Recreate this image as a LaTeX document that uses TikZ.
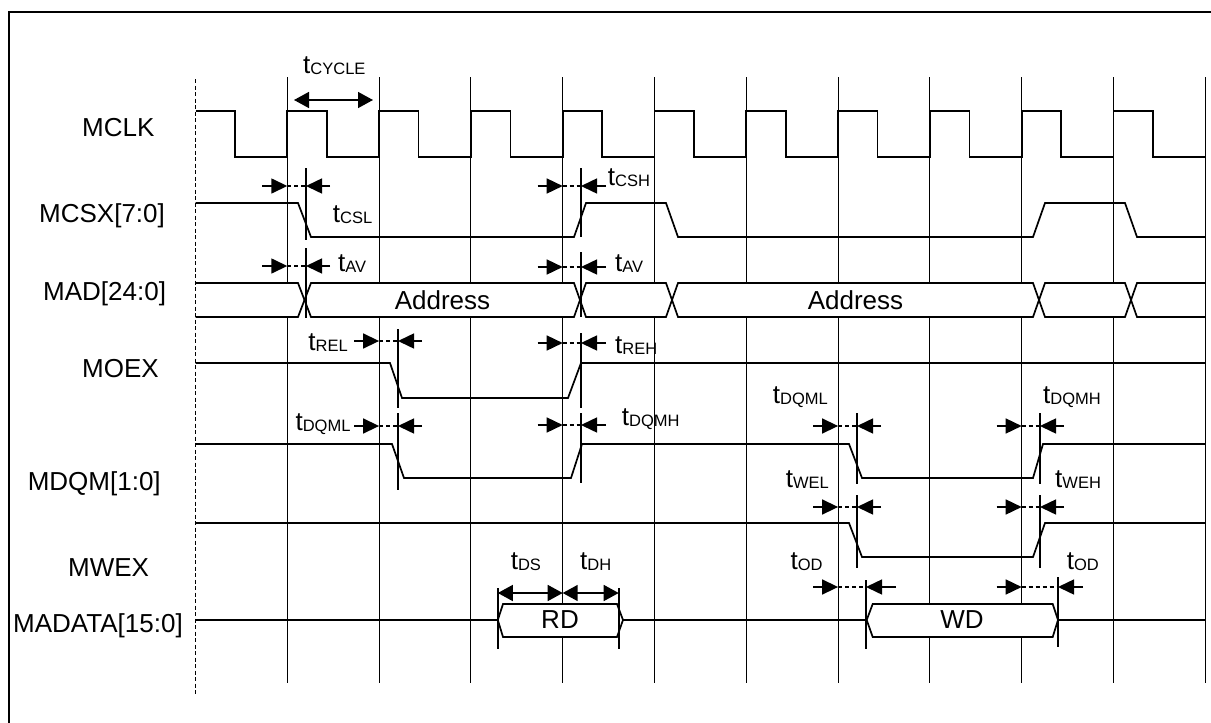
\documentclass[tikz,border=0pt]{standalone}
\usepackage{fontspec}
\setmainfont{Liberation Sans}
\usetikzlibrary{arrows.meta}
\newcommand{\tlab}[1]{t\raisebox{-1pt}{\fontsize{16.5}{16.5}\selectfont #1}}

\begin{document}
\begin{tikzpicture}[x=1pt,y=-1pt,
  sig/.style={line width=1.7pt},
  gridline/.style={line width=1.1pt},
  edgemark/.style={line width=1.8pt},
  tdash/.style={line width=1.4pt,dash pattern=on 4pt off 3pt},
  tarr/.style={line width=1.5pt,-{Triangle[length=16pt,width=15pt]}},
  tboth/.style={line width=1.5pt,{Triangle[length=15pt,width=16pt]}-{Triangle[length=15pt,width=16pt]}},
  lbl/.style={font=\fontsize{26}{30}\selectfont,inner sep=0pt,anchor=base west},
  lblr/.style={lbl,anchor=base east},
  txt/.style={font=\fontsize{26}{30}\selectfont,inner sep=0pt}]
  \useasboundingbox (0,0) rectangle (1211,723);

  % frame and time grid
  \draw[line width=2.2pt] (1211,12.3) -- (9.2,12.3) -- (9.2,723);
  \foreach \k in {1,...,11}
    \draw[gridline] ({195.5+91.8*\k},77) -- ++(0,606);

  % bus areas hide the grid
  \fill[white] (195.5,283) rectangle (1205.3,317);
  \fill[white] (497.8,620) -- (503,604) -- (617,604) -- (623,620) -- (617,637) -- (503,637) -- cycle;
  \fill[white] (866.7,620) -- (872.7,604) -- (1052.7,604) -- (1058,620) -- (1052.7,637) -- (872.7,637) -- cycle;
  \draw[line width=1.6pt,dash pattern=on 4pt off 2.5pt] (195.5,79) -- (195.5,695);

  % signal names
  \node[lbl] (mclk) at (82,136.7)   {MCLK};
  \node[lbl] (mcsx) at (39,222.7)   {MCSX[7:0]};
  \node[lbl] (mad)  at (43,300.7)   {MAD[24:0]};
  \node[lbl] (moex) at (82,377.3)   {MOEX};
  \node[lbl] (mdqm) at (27.6,490)   {MDQM[1:0]};
  \node[lbl] (mwex) at (68,576)     {MWEX};
  \node[lbl] (mdat) at (13,632)     {MADATA[15:0]};

  % waveforms
  \draw[sig] (195.5,111) \foreach \k in {0,...,9} { -| ({235+91.8*\k},157) -| ({287.3+91.8*\k},111) } -| (1153,157) -- (1205.3,157);
  \draw[sig] (195.5,203) -- (298,203) -- (311,237) -- (574,237) -- (586,203) -- (666,203) -- (678,237)
    -- (1033,237) -- (1045,203) -- (1125,203) -- (1137,237) -- (1205.3,237);
  \draw[sig] (195.5,283) -- (298,283) -- (311,317) -- (574,317) -- (586,283) -- (666,283) -- (678,317)
    -- (1033,317) -- (1045,283) -- (1125,283) -- (1137,317) -- (1205.3,317);
  \draw[sig] (195.5,317) -- (298,317) -- (311,283) -- (574,283) -- (586,317) -- (666,317) -- (678,283)
    -- (1033,283) -- (1045,317) -- (1125,317) -- (1137,283) -- (1205.3,283);
  \node[txt] (adr1) at (442.5,300) {Address};
  \node[txt] (adr2) at (855.5,300) {Address};
  \draw[sig] (195.5,363) -- (390,363) -- (402,398) -- (568,398) -- (581,363) -- (1205.3,363);
  \draw[sig] (195.5,444) -- (392,444) -- (404,478) -- (571,478) -- (582,444) -- (849,444) -- (862,478)
    -- (1033,478) -- (1043,444) -- (1205.3,444);
  \draw[sig] (195.5,523) -- (849,523) -- (862,557) -- (1033,557) -- (1045,523) -- (1205.3,523);
  \draw[sig] (195.5,620) -- (497.8,620) -- (503,604) -- (617,604) -- (623,620) -- (617,637) -- (503,637) -- (497.8,620);
  \draw[sig] (623,620) -- (866.7,620) -- (872.7,604) -- (1052.7,604) -- (1058,620) -- (1052.7,637) -- (872.7,637) -- (866.7,620);
  \draw[sig] (1058,620) -- (1205.3,620);
  \node[txt] (rd) at (560,620) {RD};
  \node[txt] (wd) at (962,620) {WD};

  % edge markers
  \foreach \x/\ya/\yb in {306/168/240, 306/248/318, 581/168/237, 581/252/317,
      398/329/408, 581/333/408, 398/413/490, 581/413/483,
      857/413/484, 1040/413/484, 857/495/568, 1040/495/568,
      497.8/588/649, 618.7/588/649, 866/580/649, 1058/577/647}
    \draw[edgemark] (\x,\ya) -- (\x,\yb);

  % timing arrows: grid line, marker, tail of right arrow
  \foreach \y/\g/\m/\r in {186/287.3/306/330, 266/287.3/306/330, 186/562.7/581/606, 267/562.7/581/606,
      341/379.1/398/422, 343/562.7/581/606, 426/379.1/398/422, 425/562.7/581/606,
      426/838.1/857/881, 426/1021.7/1040/1064, 507/838.1/857/881, 507/1021.7/1040/1064,
      587/838.1/866/896, 587/1021.7/1058/1083} {
    \draw[tarr] ({\g-25},\y) -- (\g,\y);
    \draw[tdash] (\g,\y) -- (\m,\y);
    \draw[tarr] (\r,\y) -- (\m,\y);
  }
  \draw[tboth] (294,100) -- (373,100);
  \draw[tboth] (497.8,593) -- (562.7,593);
  \draw[tboth] (562.7,593) -- (618.7,593);

  % timing names
  \node[lbl]  (tcyc)  at (303,73.3)    {\tlab{CYCLE}};
  \node[lbl]  (tcsl)  at (332.7,222.7) {\tlab{CSL}};
  \node[lbl]  (tcsh)  at (607.7,185)   {\tlab{CSH}};
  \node[lbl]  (tav1)  at (338,271.7)   {\tlab{AV}};
  \node[lbl]  (tav2)  at (615,271.7)   {\tlab{AV}};
  \node[lblr] (trel)  at (348,350)     {\tlab{REL}};
  \node[lbl]  (treh)  at (615,353.3)   {\tlab{REH}};
  \node[lblr] (tdql1) at (350.7,430.7) {\tlab{DQML}};
  \node[lbl]  (tdqh1) at (621.7,425)   {\tlab{DQMH}};
  \node[lblr] (tdql2) at (828,403.3)   {\tlab{DQML}};
  \node[lbl]  (tdqh2) at (1043,403.3)  {\tlab{DQMH}};
  \node[lblr] (twel)  at (829,487.3)   {\tlab{WEL}};
  \node[lbl]  (tweh)  at (1055,487.3)  {\tlab{WEH}};
  \node[lblr] (tod1)  at (822.7,569.3) {\tlab{OD}};
  \node[lbl]  (tod2)  at (1066.7,569.3) {\tlab{OD}};
  \node[lbl]  (tds)   at (510.6,569.3) {\tlab{DS}};
  \node[lbl]  (tdh)   at (580,569.3)   {\tlab{DH}};
\end{tikzpicture}
\end{document}
